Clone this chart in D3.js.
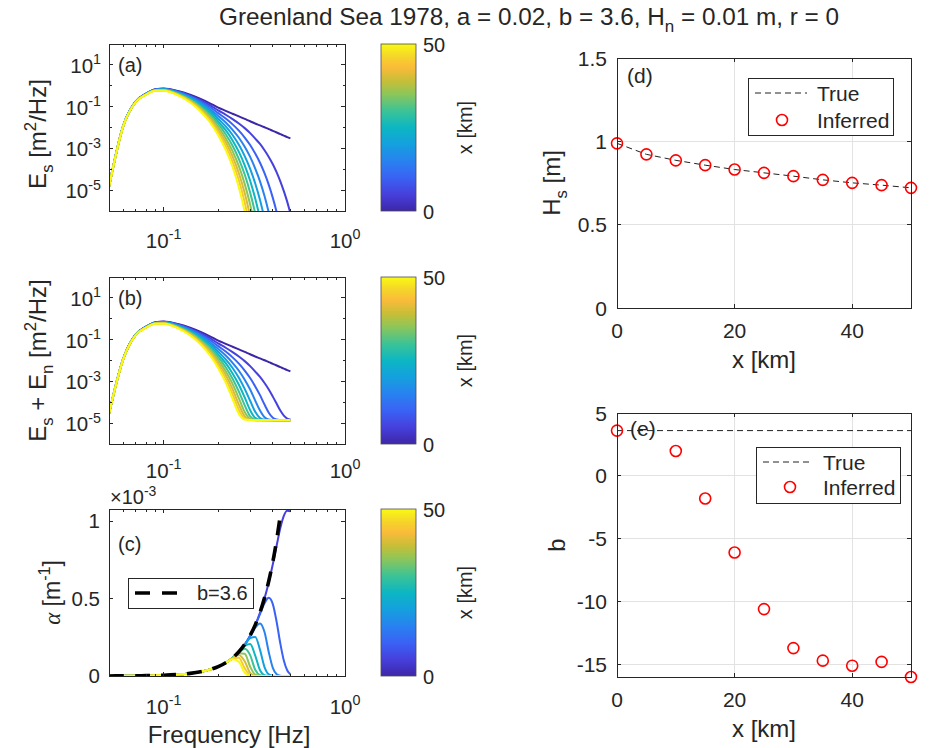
<!DOCTYPE html>
<html>
<head>
<meta charset="utf-8">
<title>Greenland Sea 1978</title>
<script src="https://cdn.jsdelivr.net/npm/d3@7/dist/d3.min.js"></script>
<style>
  html, body { margin: 0; padding: 0; background: #fff; }
  svg { display: block; }
  text { font-family: "Liberation Sans", Arial, Helvetica, sans-serif; fill: #262626; }
</style>
</head>
<body>
<svg id="fig" width="930" height="748" viewBox="0 0 930 748"></svg>
<script>
// ---------------- data ----------------
// frequency grid of the spectra [Hz]
const freqHz = [0.05, 0.06, 0.07, 0.08, 0.09, 0.10, 0.12, 0.14, 0.16, 0.18, 0.20, 0.22, 0.24,
                0.26, 0.28, 0.30, 0.32, 0.34, 0.36, 0.38, 0.40, 0.42, 0.44, 0.46, 0.48, 0.50];
// distance into the ice of each spectrum [km]
const distKm = [0, 5, 10, 15, 20, 25, 30, 35, 40, 45, 50];

// log10 of E_s [m^2/Hz], one row per distance (rows stop once far below the axis)
const specLog10 = [
  [-4.84,-1.90,-0.76,-0.38,-0.17,-0.13,-0.25,-0.43,-0.63,-0.84,-1.05,-1.20,-1.34,-1.47,-1.59,-1.70,-1.81,-1.90,-1.99,-2.08,-2.16,-2.24,-2.32,-2.39,-2.46,-2.52],
  [-4.84,-1.90,-0.76,-0.38,-0.18,-0.14,-0.27,-0.47,-0.69,-0.93,-1.18,-1.39,-1.60,-1.81,-2.03,-2.27,-2.53,-2.79,-3.09,-3.41,-3.76,-4.15,-4.58,-5.05,-5.55,-6.11],
  [-4.84,-1.90,-0.77,-0.39,-0.18,-0.15,-0.29,-0.50,-0.75,-1.02,-1.31,-1.57,-1.85,-2.15,-2.48,-2.84,-3.25,-3.69,-4.19,-4.75,-5.37,-6.06,-6.85],
  [-4.84,-1.91,-0.77,-0.39,-0.19,-0.16,-0.31,-0.54,-0.81,-1.11,-1.45,-1.76,-2.11,-2.49,-2.92,-3.41,-3.97,-4.58,-5.28,-6.08,-6.97],
  [-4.84,-1.91,-0.77,-0.40,-0.20,-0.17,-0.33,-0.58,-0.87,-1.20,-1.58,-1.95,-2.36,-2.83,-3.37,-3.98,-4.68,-5.47,-6.38,-7.41],
  [-4.84,-1.91,-0.78,-0.40,-0.21,-0.18,-0.36,-0.61,-0.93,-1.29,-1.71,-2.13,-2.62,-3.17,-3.81,-4.55,-5.40,-6.37,-7.48],
  [-4.85,-1.91,-0.78,-0.41,-0.21,-0.20,-0.38,-0.65,-0.99,-1.38,-1.84,-2.32,-2.87,-3.51,-4.25,-5.12,-6.12,-7.26],
  [-4.85,-1.91,-0.78,-0.41,-0.22,-0.21,-0.40,-0.69,-1.05,-1.47,-1.97,-2.51,-3.13,-3.85,-4.70,-5.69,-6.84],
  [-4.85,-1.91,-0.79,-0.42,-0.23,-0.22,-0.42,-0.72,-1.11,-1.56,-2.11,-2.69,-3.38,-4.19,-5.14,-6.26,-7.56],
  [-4.85,-1.92,-0.79,-0.42,-0.24,-0.23,-0.44,-0.76,-1.17,-1.65,-2.24,-2.88,-3.64,-4.53,-5.59,-6.83],
  [-4.85,-1.92,-0.79,-0.43,-0.24,-0.24,-0.46,-0.80,-1.23,-1.75,-2.37,-3.07,-3.89,-4.87,-6.03,-7.40]
];

// log10 of E_s + E_n [m^2/Hz], one row per distance
const specNoisyLog10 = [
  [-4.55,-1.90,-0.76,-0.38,-0.17,-0.13,-0.25,-0.43,-0.63,-0.84,-1.05,-1.20,-1.34,-1.47,-1.59,-1.70,-1.81,-1.90,-1.99,-2.08,-2.16,-2.24,-2.32,-2.39,-2.46,-2.52],
  [-4.55,-1.90,-0.76,-0.38,-0.18,-0.14,-0.27,-0.47,-0.69,-0.93,-1.18,-1.39,-1.60,-1.81,-2.03,-2.27,-2.53,-2.79,-3.08,-3.39,-3.73,-4.07,-4.40,-4.64,-4.78,-4.83],
  [-4.55,-1.90,-0.77,-0.39,-0.18,-0.15,-0.29,-0.50,-0.75,-1.02,-1.31,-1.57,-1.85,-2.15,-2.48,-2.84,-3.24,-3.66,-4.11,-4.50,-4.74,-4.83,-4.85,-4.86,-4.86,-4.86],
  [-4.55,-1.91,-0.77,-0.39,-0.19,-0.16,-0.31,-0.54,-0.81,-1.11,-1.45,-1.76,-2.11,-2.49,-2.92,-3.39,-3.92,-4.40,-4.72,-4.83,-4.85,-4.86,-4.86,-4.86,-4.86,-4.86],
  [-4.55,-1.91,-0.77,-0.40,-0.20,-0.17,-0.33,-0.58,-0.87,-1.20,-1.58,-1.95,-2.36,-2.83,-3.36,-3.93,-4.46,-4.76,-4.84,-4.85,-4.86,-4.86,-4.86,-4.86,-4.86,-4.86],
  [-4.55,-1.91,-0.78,-0.40,-0.21,-0.18,-0.36,-0.61,-0.93,-1.29,-1.71,-2.13,-2.62,-3.16,-3.77,-4.38,-4.75,-4.84,-4.85,-4.86,-4.86,-4.86,-4.86,-4.86,-4.86,-4.86],
  [-4.55,-1.91,-0.78,-0.41,-0.21,-0.20,-0.38,-0.65,-0.99,-1.38,-1.84,-2.32,-2.87,-3.49,-4.15,-4.67,-4.83,-4.85,-4.86,-4.86,-4.86,-4.86,-4.86,-4.86,-4.86,-4.86],
  [-4.55,-1.91,-0.78,-0.41,-0.22,-0.21,-0.40,-0.69,-1.05,-1.47,-1.97,-2.51,-3.12,-3.81,-4.47,-4.80,-4.85,-4.86,-4.86,-4.86,-4.86,-4.86,-4.86,-4.86,-4.86,-4.86],
  [-4.55,-1.91,-0.79,-0.42,-0.23,-0.22,-0.42,-0.72,-1.11,-1.56,-2.11,-2.69,-3.37,-4.11,-4.67,-4.84,-4.86,-4.86,-4.86,-4.86,-4.86,-4.86,-4.86,-4.86,-4.86,-4.86],
  [-4.55,-1.92,-0.79,-0.42,-0.24,-0.23,-0.44,-0.76,-1.17,-1.65,-2.24,-2.88,-3.61,-4.36,-4.78,-4.85,-4.86,-4.86,-4.86,-4.86,-4.86,-4.86,-4.86,-4.86,-4.86,-4.86],
  [-4.55,-1.92,-0.79,-0.43,-0.24,-0.24,-0.46,-0.80,-1.23,-1.75,-2.37,-3.06,-3.85,-4.56,-4.83,-4.85,-4.86,-4.86,-4.86,-4.86,-4.86,-4.86,-4.86,-4.86,-4.86,-4.86]
];

// attenuation rate alpha, in units of 1e-3 m^-1
const alphaDistKm = [5, 10, 15, 20, 25, 30, 35, 40, 45, 50];
const alphaInferred = [
  [0.0002,0.0008,0.0014,0.0023,0.0034,0.005,0.0097,0.0169,0.0273,0.0417,0.0608,0.0858,0.117,0.157,0.204,0.261,0.329,0.410,0.502,0.607,0.723,0.844,0.957,1.036,1.068,1.066],
  [0.0002,0.0008,0.0014,0.0023,0.0034,0.005,0.0097,0.0169,0.0273,0.0417,0.0607,0.0855,0.117,0.156,0.203,0.261,0.327,0.400,0.470,0.506,0.465,0.349,0.210,0.100,0.037,0.011],
  [0.0002,0.0008,0.0014,0.0023,0.0034,0.005,0.0097,0.0169,0.0273,0.0417,0.0606,0.0853,0.116,0.156,0.203,0.257,0.312,0.340,0.284,0.154,0.053,0.012,0.002,0,0,0],
  [0.0002,0.0008,0.0014,0.0023,0.0034,0.005,0.0097,0.0169,0.0273,0.0417,0.0606,0.0855,0.117,0.156,0.200,0.245,0.252,0.169,0.058,0.011,0.002,0,0,0,0,0],
  [0.0002,0.0008,0.0014,0.0023,0.0034,0.005,0.0097,0.0169,0.0273,0.0417,0.0606,0.0857,0.117,0.154,0.194,0.207,0.132,0.037,0.005,0,0,0,0,0,0,0],
  [0.0002,0.0008,0.0014,0.0023,0.0034,0.005,0.0097,0.0169,0.0273,0.0417,0.0606,0.0857,0.117,0.152,0.177,0.135,0.040,0.005,0,0,0,0,0,0,0,0],
  [0.0002,0.0008,0.0014,0.0023,0.0034,0.005,0.0097,0.0169,0.0273,0.0417,0.0605,0.0856,0.116,0.147,0.144,0.060,0.009,0.001,0,0,0,0,0,0,0,0],
  [0.0002,0.0008,0.0014,0.0023,0.0034,0.005,0.0097,0.0169,0.0273,0.0417,0.0605,0.0854,0.115,0.136,0.095,0.020,0.002,0,0,0,0,0,0,0,0,0],
  [0.0002,0.0008,0.0014,0.0023,0.0034,0.005,0.0097,0.0169,0.0273,0.0417,0.0607,0.0852,0.112,0.118,0.049,0.006,0,0,0,0,0,0,0,0,0,0],
  [0.0002,0.0008,0.0014,0.0023,0.0034,0.005,0.0097,0.0169,0.0273,0.0417,0.0606,0.0847,0.109,0.092,0.021,0.002,0,0,0,0,0,0,0,0,0,0]
];
// prescribed attenuation for b = 3.6 (same units)
const alphaTrue = [0.0004,0.0008,0.0014,0.0023,0.0034,0.005,0.0097,0.0169,0.0273,0.0417,0.0608,0.0858,0.1174,0.1566,
                   0.2046,0.2622,0.3308,0.4114,0.5054,0.6142,0.738,0.880,1.042,1.222,1.424,1.650];

// significant wave height along the transect [m]
const hsDistKm   = [0, 5, 10, 15, 20, 25, 30, 35, 40, 45, 50];
const hsTrue     = [0.988, 0.922, 0.886, 0.857, 0.831, 0.811, 0.791, 0.769, 0.751, 0.737, 0.721];
const hsInferred = [0.988, 0.922, 0.886, 0.857, 0.831, 0.811, 0.791, 0.769, 0.751, 0.737, 0.721];

// exponent b along the transect (no estimate at 5 km)
const bDistKm    = [0, 5, 10, 15, 20, 25, 30, 35, 40, 45, 50];
const bInferred  = [3.6, null, 1.98, -1.8, -6.1, -10.6, -13.7, -14.7, -15.1, -14.8, -16.0];
const bTrue      = 3.6;

// ticks
const freqMajor = [0.1, 1];
const freqMajorExp = ["-1", "0"];
const freqMinor = [0.05, 0.06, 0.07, 0.08, 0.09, 0.2, 0.3, 0.4, 0.5, 0.6, 0.7, 0.8, 0.9];
const specTickExp = [1, -1, -3, -5];
const specMinorExp = [2, 0, -2, -4, -6];
const alphaTicks = [0, 0.5, 1];
const alphaTickLabels = ["0", "0.5", "1"];
const kmTicks = [0, 20, 40];
const hsTicks = [0, 0.5, 1, 1.5];
const hsTickLabels = ["0", "0.5", "1", "1.5"];
const bTicks = [-15, -10, -5, 0, 5];

// ---------------- drawing ----------------
const svg = d3.select("#fig");
const defs = svg.append("defs");
const INK = "#262626";
const GRID = "#e2e2e2";

// parula colormap
const parulaStops = [
  [0.00, "#3e26a8"], [0.10, "#4640dc"], [0.20, "#3a62f5"], [0.30, "#2882f0"], [0.40, "#14a0de"],
  [0.50, "#0cb6c3"], [0.60, "#3cc396"], [0.70, "#8cc65a"], [0.78, "#c8be37"], [0.86, "#fabb3a"],
  [0.93, "#f5d728"], [1.00, "#f9fa14"]
];
const colorOf = d3.scaleLinear()
  .domain(parulaStops.map(s => s[0] * 50))
  .range(parulaStops.map(s => s[1]))
  .interpolate(d3.interpolateRgb).clamp(true);

const grad = defs.append("linearGradient").attr("id", "parulaGrad")
  .attr("x1", 0).attr("y1", 1).attr("x2", 0).attr("y2", 0);
parulaStops.forEach(s => grad.append("stop").attr("offset", s[0]).attr("stop-color", s[1]));

// text with sub/superscript pieces: parts = ["txt", ["s","sub"], ["2","sup"], ...]
function rich(sel, parts, size) {
  let shift = 0;
  parts.forEach(p => {
    const [str, kind, style] = Array.isArray(p) ? p : [p, "", null];
    const target = kind === "sup" ? -0.42 * size : kind === "sub" ? 0.3 * size : 0;
    const t = sel.append("tspan").text(str).attr("dy", (target - shift).toFixed(2));
    if (kind === "sup" || kind === "sub") t.style("font-size", (size * 0.7).toFixed(1) + "px");
    if (style) Object.entries(style).forEach(([k, v]) => t.style(k, v));
    shift = target;
  });
  return sel;
}
function label(x, y, parts, size, opts = {}) {
  const t = svg.append("text")
    .attr("transform", `translate(${x},${y})` + (opts.rotate ? ` rotate(${opts.rotate})` : ""))
    .attr("text-anchor", opts.anchor || "middle")
    .style("font-size", size + "px");
  return rich(t, parts, size);
}
function clip(id, b) {
  defs.append("clipPath").attr("id", id).append("rect")
    .attr("x", b.x).attr("y", b.y).attr("width", b.w).attr("height", b.h);
}
function frame(b) {
  svg.append("rect").attr("x", b.x).attr("y", b.y).attr("width", b.w).attr("height", b.h)
    .attr("fill", "none").attr("stroke", INK).attr("stroke-width", 1).attr("shape-rendering", "crispEdges");
}
function tickLine(x1, y1, x2, y2) {
  svg.append("line").attr("x1", x1).attr("y1", y1).attr("x2", x2).attr("y2", y2)
    .attr("stroke", INK).attr("stroke-width", 1).attr("shape-rendering", "crispEdges");
}
function xTicks(b, xs, vals, len) {
  vals.forEach(v => { const x = xs(v);
    tickLine(x, b.y + b.h, x, b.y + b.h - len); tickLine(x, b.y, x, b.y + len); });
}
function yTicks(b, ys, vals, len) {
  vals.forEach(v => { const y = ys(v);
    tickLine(b.x, y, b.x + len, y); tickLine(b.x + b.w, y, b.x + b.w - len, y); });
}

// ---------- left column layout ----------
const boxA = { x: 109, y: 44, w: 236, h: 167 };
const boxB = { x: 109, y: 277, w: 236, h: 167 };
const boxC = { x: 109, y: 509, w: 236, h: 167 };
const cbX = 381, cbW = 35;
const TICK_L = 20.5;

function freqAxis(b, xs, dy) {
  xTicks(b, xs, freqMajor, 4);
  xTicks(b, xs, freqMinor, 2.5);
  freqMajor.forEach((f, i) => label(xs(f), b.y + b.h + dy, ["10", [freqMajorExp[i], "sup"]], TICK_L));
}

function colorbar(b) {
  svg.append("rect").attr("x", cbX).attr("y", b.y).attr("width", cbW).attr("height", b.h)
    .attr("fill", "url(#parulaGrad)").attr("stroke", "#4d4d4d").attr("stroke-width", 0.8);
  label(cbX + cbW + 7, b.y + 8, ["50"], 20, { anchor: "start" });
  label(cbX + cbW + 7, b.y + b.h + 8, ["0"], 20, { anchor: "start" });
  label(472, b.y + b.h / 2, ["x [km]"], 20, { rotate: -90 });
}

function spectrumPanel(b, rows, clipId, tag, yParts, yLabelY, tickDy) {
  const xs = d3.scaleLog().domain([0.05, 1]).range([b.x, b.x + b.w]);
  const ys = d3.scaleLog().domain([1e-6, 1e2]).range([b.y + b.h, b.y]);
  clip(clipId, b);
  const line = d3.line().x(d => xs(d[0])).y(d => ys(Math.pow(10, d[1]))).curve(d3.curveMonotoneX);
  const g = svg.append("g").attr("clip-path", `url(#${clipId})`);
  rows.forEach((row, i) => {
    g.append("path")
      .attr("d", line(row.map((v, j) => [freqHz[j], v])))
      .attr("fill", "none").attr("stroke", colorOf(distKm[i]))
      .attr("stroke-width", 2).attr("stroke-linejoin", "round");
  });
  frame(b);
  freqAxis(b, xs, tickDy);
  yTicks(b, e => ys(Math.pow(10, e)), specTickExp, 4);
  yTicks(b, e => ys(Math.pow(10, e)), specMinorExp, 2.5);
  specTickExp.forEach(e => label(b.x - 8, ys(Math.pow(10, e)) + 8, ["10", [String(e), "sup"]], TICK_L, { anchor: "end" }));
  label(b.x + 9, b.y + 28, [tag], 20, { anchor: "start" });
  label(46, yLabelY, yParts, 24, { rotate: -90 });
  colorbar(b);
}

spectrumPanel(boxA, specLog10, "clipA", "(a)", ["E", ["s", "sub"], " [m", ["2", "sup"], "/Hz]"], 134, 37);
spectrumPanel(boxB, specNoisyLog10, "clipB", "(b)",
  ["E", ["s", "sub"], " + E", ["n", "sub"], " [m", ["2", "sup"], "/Hz]"], boxB.y + boxB.h / 2, 34);

// ---------- panel (c): attenuation ----------
{
  const b = boxC;
  const xs = d3.scaleLog().domain([0.05, 1]).range([b.x, b.x + b.w]);
  const ys = d3.scaleLinear().domain([0, 1.08]).range([b.y + b.h, b.y]);
  clip("clipC", b);
  const line = d3.line().x(d => xs(d[0])).y(d => ys(d[1])).curve(d3.curveMonotoneX);
  const g = svg.append("g").attr("clip-path", "url(#clipC)");
  alphaInferred.forEach((row, i) => {
    g.append("path").attr("d", line(row.map((v, j) => [freqHz[j], v])))
      .attr("fill", "none").attr("stroke", colorOf(alphaDistKm[i]))
      .attr("stroke-width", 2).attr("stroke-linejoin", "round");
  });
  g.append("path").attr("d", line(alphaTrue.map((v, j) => [freqHz[j], v])))
    .attr("fill", "none").attr("stroke", "#000").attr("stroke-width", 3.6)
    .attr("stroke-dasharray", "15,11");
  frame(b);
  freqAxis(b, xs, 38);
  yTicks(b, ys, alphaTicks, 4);
  alphaTicks.forEach((v, i) => label(b.x - 9, ys(v) + 7, [alphaTickLabels[i]], 20.5, { anchor: "end" }));
  label(110, 504, ["\u00d710", ["-3", "sup"]], 20, { anchor: "start" });
  label(b.x + 9, b.y + 42, ["(c)"], 20, { anchor: "start" });
  label(60, b.y + b.h / 2,
    [["\u03b1", "", { "font-family": "'Liberation Serif', 'DejaVu Serif', serif", "font-style": "italic" }],
     " [m", ["-1", "sup"], "]"], 23, { rotate: -90 });
  label((b.x + b.x + b.w) / 2 + 2, 743, ["Frequency [Hz]"], 24);
  // legend
  svg.append("rect").attr("x", 128).attr("y", 578).attr("width", 125).attr("height", 30)
    .attr("fill", "#fff").attr("stroke", INK).attr("stroke-width", 1).attr("shape-rendering", "crispEdges");
  svg.append("line").attr("x1", 135).attr("y1", 593).attr("x2", 177).attr("y2", 593)
    .attr("stroke", "#000").attr("stroke-width", 3.6).attr("stroke-dasharray", "15,12");
  label(197, 600, ["b=3.6"], 20, { anchor: "start" });
  colorbar(b);
}

// ---------- right column ----------
const boxD = { x: 617, y: 58, w: 294, h: 250 };
const boxE = { x: 617, y: 413, w: 294, h: 264 };

function legendBox(x, y, w, h, dashY, circY, textX, lineX1, lineX2, circX) {
  svg.append("rect").attr("x", x).attr("y", y).attr("width", w).attr("height", h)
    .attr("fill", "#fff").attr("stroke", INK).attr("stroke-width", 1).attr("shape-rendering", "crispEdges");
  svg.append("line").attr("x1", lineX1).attr("x2", lineX2).attr("y1", dashY).attr("y2", dashY)
    .attr("stroke", "#222").attr("stroke-width", 1).attr("stroke-dasharray", "6,4");
  label(textX, dashY + 8, ["True"], 21, { anchor: "start" });
  svg.append("circle").attr("cx", circX).attr("cy", circY).attr("r", 5.5)
    .attr("fill", "none").attr("stroke", "#ff0000").attr("stroke-width", 1.6);
  label(textX, circY + 8, ["Inferred"], 21, { anchor: "start" });
}

// panel (d): significant wave height
{
  const b = boxD;
  const xs = d3.scaleLinear().domain([0, 50]).range([b.x, b.x + b.w]);
  const ys = d3.scaleLinear().domain([0, 1.5]).range([b.y + b.h, b.y]);
  kmTicks.filter(v => v > 0).forEach(v => svg.append("line").attr("x1", xs(v)).attr("x2", xs(v))
    .attr("y1", b.y).attr("y2", b.y + b.h).attr("stroke", GRID).attr("shape-rendering", "crispEdges"));
  hsTicks.filter(v => v > 0 && v < 1.5).forEach(v => svg.append("line").attr("x1", b.x).attr("x2", b.x + b.w)
    .attr("y1", ys(v)).attr("y2", ys(v)).attr("stroke", GRID).attr("shape-rendering", "crispEdges"));
  svg.append("path").attr("d", d3.line().x((d, i) => xs(hsDistKm[i])).y(d => ys(d))(hsTrue))
    .attr("fill", "none").attr("stroke", "#222").attr("stroke-width", 1).attr("stroke-dasharray", "6,4");
  svg.selectAll(null).data(hsInferred).enter().append("circle")
    .attr("cx", (d, i) => xs(hsDistKm[i])).attr("cy", d => ys(d)).attr("r", 5.5)
    .attr("fill", "none").attr("stroke", "#ff0000").attr("stroke-width", 1.6);
  frame(b);
  xTicks(b, xs, kmTicks, 4);
  yTicks(b, ys, hsTicks, 4);
  kmTicks.forEach(v => label(xs(v), b.y + b.h + 30, [String(v)], 21));
  hsTicks.forEach((v, i) => label(b.x - 10, ys(v) + 7.5, [hsTickLabels[i]], 21, { anchor: "end" }));
  label(b.x + b.w / 2, 368, ["x [km]"], 24);
  label(560, b.y + b.h / 2, ["H", ["s", "sub"], " [m]"], 24, { rotate: -90 });
  label(627, 83, ["(d)"], 21, { anchor: "start" });
  legendBox(748, 78, 145, 57, 93, 120, 817, 755, 807, 782);
}

// panel (e): exponent b
{
  const b = boxE;
  const xs = d3.scaleLinear().domain([0, 50]).range([b.x, b.x + b.w]);
  const ys = d3.scaleLinear().domain([-16, 5]).range([b.y + b.h, b.y]);
  kmTicks.filter(v => v > 0).forEach(v => svg.append("line").attr("x1", xs(v)).attr("x2", xs(v))
    .attr("y1", b.y).attr("y2", b.y + b.h).attr("stroke", GRID).attr("shape-rendering", "crispEdges"));
  bTicks.filter(v => v < 5).forEach(v => svg.append("line").attr("x1", b.x).attr("x2", b.x + b.w)
    .attr("y1", ys(v)).attr("y2", ys(v)).attr("stroke", GRID).attr("shape-rendering", "crispEdges"));
  svg.append("line").attr("x1", xs(0)).attr("x2", xs(50)).attr("y1", ys(bTrue)).attr("y2", ys(bTrue))
    .attr("stroke", "#222").attr("stroke-width", 1).attr("stroke-dasharray", "6,4");
  const pts = bInferred.map((v, i) => [bDistKm[i], v]).filter(d => d[1] !== null);
  svg.selectAll(null).data(pts).enter().append("circle")
    .attr("cx", d => xs(d[0])).attr("cy", d => ys(d[1])).attr("r", 5.5)
    .attr("fill", "none").attr("stroke", "#ff0000").attr("stroke-width", 1.6);
  frame(b);
  xTicks(b, xs, kmTicks, 4);
  yTicks(b, ys, bTicks, 4);
  kmTicks.forEach(v => label(xs(v), b.y + b.h + 30, [String(v)], 21));
  bTicks.forEach(v => label(b.x - 10, ys(v) + 7.5, [String(v)], 21, { anchor: "end" }));
  label(b.x + b.w / 2, 737, ["x [km]"], 24);
  label(565, b.y + b.h / 2, ["b"], 24, { rotate: -90 });
  label(630, 436, ["(e)"], 21, { anchor: "start" });
  legendBox(756, 447, 144, 56, 462, 487, 823, 763, 813, 790);
}

// ---------- figure title ----------
label(529, 25, ["Greenland Sea 1978, a = 0.02, b = 3.6, H", ["n", "sub"], " = 0.01 m, r = 0"], 24.3);
</script>
</body>
</html>
